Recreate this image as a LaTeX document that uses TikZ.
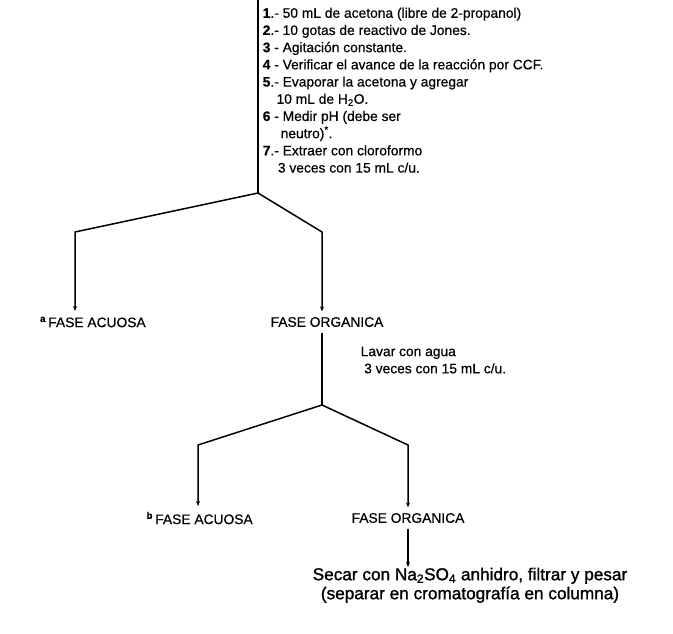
\documentclass[tikz,border=0pt]{standalone}
\usepackage{fontspec}
\setmainfont{Liberation Sans}[FakeBold=0.5]
\newfontfamily\gruesa{Liberation Sans}[FakeBold=1.2]
\usetikzlibrary{arrows.meta,positioning}
\begin{document}
\begin{tikzpicture}[x=1pt, y=-1pt, >={Stealth[length=5pt,width=4pt]}, line width=1.5pt,
    texto/.style={font=\fontsize{13.8}{17.2}\selectfont, inner sep=0pt, align=left},
    fase/.style={font=\fontsize{13.8}{17.2}\selectfont, inner sep=5pt}]
    \useasboundingbox (0,0) rectangle (673,633);

    % pasos de la reaccion
    \node[texto, anchor=north west] (pasos) at (262,7) {%
        \textbf{1}.- 50 mL de acetona (libre de 2-propanol)\\
        \textbf{2}.- 10 gotas de reactivo de Jones.\\
        \textbf{3} - Agitación constante.\\
        \textbf{4} - Verificar el avance de la reacción por CCF.\\
        \textbf{5}.- Evaporar la acetona y agregar\\
        \hspace*{1em}10 mL de H\textsubscript{2}O.\\
        \textbf{6} - Medir pH (debe ser\\
        \hspace*{1.3em}neutro)\textsuperscript{*}.\\
        \textbf{7}.- Extraer con cloroformo\\
        \hspace*{1.1em}3 veces con 15 mL c/u.};

    % fases
    \node[fase] (acu1) at (97,322) {\llap{\textsuperscript{\textbf{a}}\,}FASE ACUOSA};
    \node[fase] (org1) at (327,322) {FASE ORGANICA};
    \node[texto, anchor=west] (lavar) at (360,360) {Lavar con agua\\ \hspace*{0.25em}3 veces con 15 mL c/u.};
    \node[fase] (acu2) at (204,518) {\llap{\textsuperscript{\textbf{b}}\,}FASE ACUOSA};
    \node[fase] (org2) at (408,518) {FASE ORGANICA};
    \node[texto, font=\gruesa\fontsize{17.2}{19}\selectfont, align=center, anchor=north] (secar) at (470,567)
        {Secar con Na\textsubscript{2}SO\textsubscript{4} anhidro, filtrar y pesar\\
        (separar en cromatografía en columna)};

    % ramas
    \coordinate (inicio) at (258,0);
    \coordinate (r1) at (258,193);
    \coordinate (r1i) at (75,232);
    \coordinate (r1d) at (322,232);
    \coordinate (r2) at (322,405);
    \coordinate (r2i) at (198,445);
    \coordinate (r2d) at (408,445);

    \draw (inicio) -- (r1);
    \draw[->] (r1) -- (r1i) -- (acu1.north -| r1i);
    \draw[->] (r1) -- (r1d) -- (org1.north -| r1d);
    \draw (org1.south -| r1d) -- (r2);
    \draw[->] (r2) -- (r2i) -- (acu2.north -| r2i);
    \draw[->] (r2) -- (r2d) -- (org2.north -| r2d);
    \draw[->] (org2.south) -- (secar.north -| org2.south);
\end{tikzpicture}
\end{document}
